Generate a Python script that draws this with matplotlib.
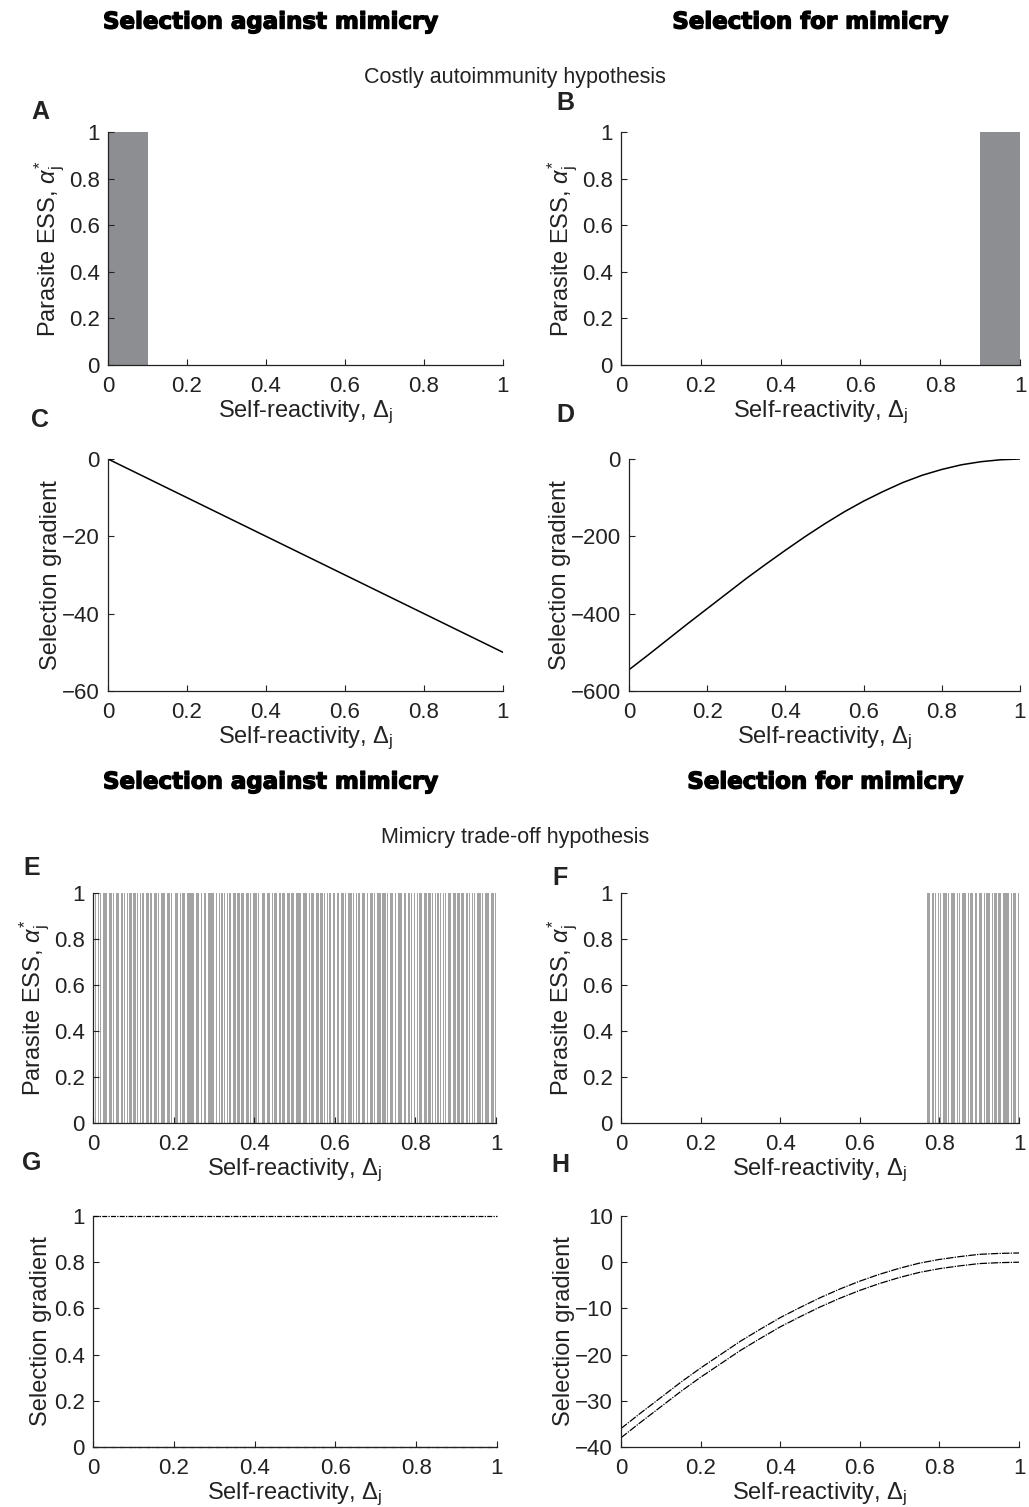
import matplotlib
matplotlib.use('Agg')
from matplotlib import pyplot as plt
import matplotlib.patheffects as pe

plt.rcParams['font.family'] = ['Liberation Sans', 'DejaVu Sans']
plt.rcParams['mathtext.fontset'] = 'custom'
plt.rcParams['mathtext.rm'] = 'Liberation Sans'
plt.rcParams['mathtext.it'] = 'Liberation Sans:italic'
plt.rcParams['mathtext.bf'] = 'Liberation Sans:bold'

# panels A / B: ESS bars
a_bar = (0.0, 0.1)
b_bar = (0.9, 1.0)

# panel C: linear gradient
c_x = [0, 1]
c_y = [0, -50]

# panel D: curved gradient
d_x = [0, 0.05, 0.1, 0.15, 0.2, 0.25, 0.3, 0.35, 0.4, 0.45, 0.5,
       0.55, 0.6, 0.65, 0.7, 0.75, 0.8, 0.85, 0.9, 0.95, 1.0]
d_y = [-545, -506, -466, -426, -387, -348, -309, -272, -236, -201, -168,
       -137, -109, -84, -61, -42, -27, -15, -7, -2, 0]

# panels E / F: ESS occupancy, one char per bin of width 0.004
bin_w = 0.004
e_start = 0.0
e_pattern = ("1101101110" "1110110111" "0111011101" "1101111011" "1011101110"
             "0110111011" "1110110101" "0111101011" "1101110111" "1011011101"
             "1110011011" "0111011110" "1101101110" "1110111011" "0111011101"
             "0110111011" "1101110110" "1011101111" "1110110101" "1101011101"
             "0111011011" "1011110110" "1101101111" "0111011011" "1101110111")
f_start = 0.768
f_pattern = ("1101110110" "1111011101" "1011101110" "1101101111" "0111011011"
             "11011101")

# panel G: gradient at two levels
g_x = [0, 1]
g_upper = [1, 1]
g_lower = [0, 0]

# panel H: two gradient curves
h_x = [0, 0.05, 0.1, 0.15, 0.2, 0.25, 0.3, 0.35, 0.4, 0.45, 0.5,
       0.55, 0.6, 0.65, 0.7, 0.75, 0.8, 0.85, 0.9, 0.95, 1.0]
h_upper = [-36, -32.6, -29.3, -26, -22.9, -20, -17.1, -14.5, -12, -9.8, -7.7,
           -5.8, -4.1, -2.6, -1.3, -0.2, 0.6, 1.2, 1.7, 1.9, 2.0]
h_lower = [-38, -34.6, -31.3, -28, -24.9, -22, -19.1, -16.5, -14, -11.8, -9.7,
           -7.8, -6.1, -4.6, -3.3, -2.2, -1.4, -0.8, -0.3, -0.1, 0]

x_ticks = [0, 0.2, 0.4, 0.6, 0.8, 1]
x_ticklabels = ['0', '0.2', '0.4', '0.6', '0.8', '1']
ess_ticks = [0, 0.2, 0.4, 0.6, 0.8, 1]
ess_labels = ['0', '0.2', '0.4', '0.6', '0.8', '1']

W, H = 1029, 1507
fig = plt.figure(figsize=(W / 100, H / 100), dpi=100)


def add_ax(left, top, right, bottom):
    return fig.add_axes([left / W, 1 - bottom / H, (right - left) / W, (bottom - top) / H])


ink = '#222222'
bar_grey = '#8d8e92'
xlab = r'Self-reactivity, $\Delta_{\mathrm{j}}$'
esslab = r'Parasite ESS, $\alpha^{*}_{\mathrm{j}}$'
lab_fs = 17
tick_fs = 16


def style(ax, yticks, ylabels, ylim):
    for s in ['top', 'right']:
        ax.spines[s].set_visible(False)
    for s in ['left', 'bottom']:
        ax.spines[s].set_linewidth(0.9)
        ax.spines[s].set_color(ink)
    ax.set_xlim(0, 1)
    ax.set_ylim(*ylim)
    ax.set_xticks(x_ticks)
    ax.set_xticklabels(x_ticklabels)
    ax.set_yticks(yticks)
    ax.set_yticklabels(ylabels)
    ax.tick_params(direction='in', length=4, width=0.8, labelsize=tick_fs,
                   colors=ink)
    ax.tick_params(axis='x', pad=8)
    ax.tick_params(axis='y', pad=6)
    ax.set_xlabel(xlab, fontsize=lab_fs, labelpad=1, color=ink)


def occupied(start, pattern):
    return [start + i * bin_w + bin_w / 2 for i, c in enumerate(pattern) if c == '1']


# A
ax = add_ax(108, 132, 503, 365)
ax.bar(a_bar[0], 1, width=a_bar[1] - a_bar[0], align='edge', color=bar_grey, linewidth=0)
style(ax, ess_ticks, ess_labels, (0, 1))
ax.set_ylabel(esslab, fontsize=lab_fs, labelpad=1, color=ink)

# B
ax = add_ax(621, 132, 1020, 365)
ax.bar(b_bar[0], 1, width=b_bar[1] - b_bar[0], align='edge', color=bar_grey, linewidth=0)
style(ax, ess_ticks, ess_labels, (0, 1))
ax.set_ylabel(esslab, fontsize=lab_fs, labelpad=1, color=ink)

# C
ax = add_ax(108, 459, 503, 691)
ax.plot(c_x, c_y, color='black', lw=1.1)
style(ax, [-60, -40, -20, 0], ['\u221260', '\u221240', '\u221220', '0'], (-60, 0))
ax.set_ylabel('Selection gradient', fontsize=lab_fs, labelpad=0, color=ink)

# D
ax = add_ax(629, 459, 1020, 691)
ax.plot(d_x, d_y, color='black', lw=1.1)
style(ax, [-600, -400, -200, 0], ['\u2212600', '\u2212400', '\u2212200', '0'], (-600, 0))
ax.set_ylabel('Selection gradient', fontsize=lab_fs, labelpad=0, color=ink)

# E
ax = add_ax(93, 893, 496, 1123)
ax.bar(occupied(e_start, e_pattern), 1, width=bin_w * 0.8, color='#a3a3a3', linewidth=0)
style(ax, ess_ticks, ess_labels, (0, 1))
ax.set_ylabel(esslab, fontsize=lab_fs, labelpad=1, color=ink)

# F
ax = add_ax(621, 893, 1019, 1123)
ax.bar(occupied(f_start, f_pattern), 1, width=bin_w * 0.8, color='#a3a3a3', linewidth=0)
style(ax, ess_ticks, ess_labels, (0, 1))
ax.set_ylabel(esslab, fontsize=lab_fs, labelpad=1, color=ink)

# G
ax = add_ax(93, 1216, 497, 1447)
ax.plot(g_x, g_upper, color='black', lw=0.9, ls=(0, (4, 1, 1, 1)), clip_on=False)
ax.plot(g_x, g_lower, color='black', lw=0.9, ls=(0, (4, 1, 1, 1)), clip_on=False)
style(ax, ess_ticks, ess_labels, (0, 1))
ax.set_ylabel('Selection gradient', fontsize=lab_fs, labelpad=1, color=ink)

# H
ax = add_ax(621, 1216, 1019, 1447)
ax.plot(h_x, h_upper, color='black', lw=0.9, ls=(0, (6, 1, 1, 1)))
ax.plot(h_x, h_lower, color='black', lw=0.9, ls=(0, (6, 1, 1, 1)))
style(ax, [-40, -30, -20, -10, 0, 10],
      ['\u221240', '\u221230', '\u221220', '\u221210', '0', '10'], (-40, 10))
ax.set_ylabel('Selection gradient', fontsize=lab_fs, labelpad=0, color=ink)

# headers
head = dict(fontsize=16.5, fontweight='bold', family=['DejaVu Sans'],
            ha='center', va='center', color='black',
            path_effects=[pe.withStroke(linewidth=1.0, foreground='black')])
fig.text(270 / W, 1 - 22 / H, 'Selection against mimicry', **head)
fig.text(810 / W, 1 - 22 / H, 'Selection for mimicry', **head)
fig.text(270 / W, 1 - 782 / H, 'Selection against mimicry', **head)
fig.text(825 / W, 1 - 782 / H, 'Selection for mimicry', **head)
fig.text(515 / W, 1 - 77 / H, 'Costly autoimmunity hypothesis', fontsize=15.5,
         ha='center', va='center', color=ink)
fig.text(515 / W, 1 - 838 / H, 'Mimicry trade-off hypothesis', fontsize=15.5,
         ha='center', va='center', color=ink)

letters = [('A', 40, 112), ('B', 565, 103), ('C', 40, 420), ('D', 565, 415),
           ('E', 32, 868), ('F', 560, 878), ('G', 32, 1163), ('H', 560, 1165)]
for lab, lx, ly in letters:
    fig.text(lx / W, 1 - ly / H, lab, fontsize=18, fontweight='bold',
             ha='center', va='center', color=ink)

fig.savefig('out.png', dpi=100)
